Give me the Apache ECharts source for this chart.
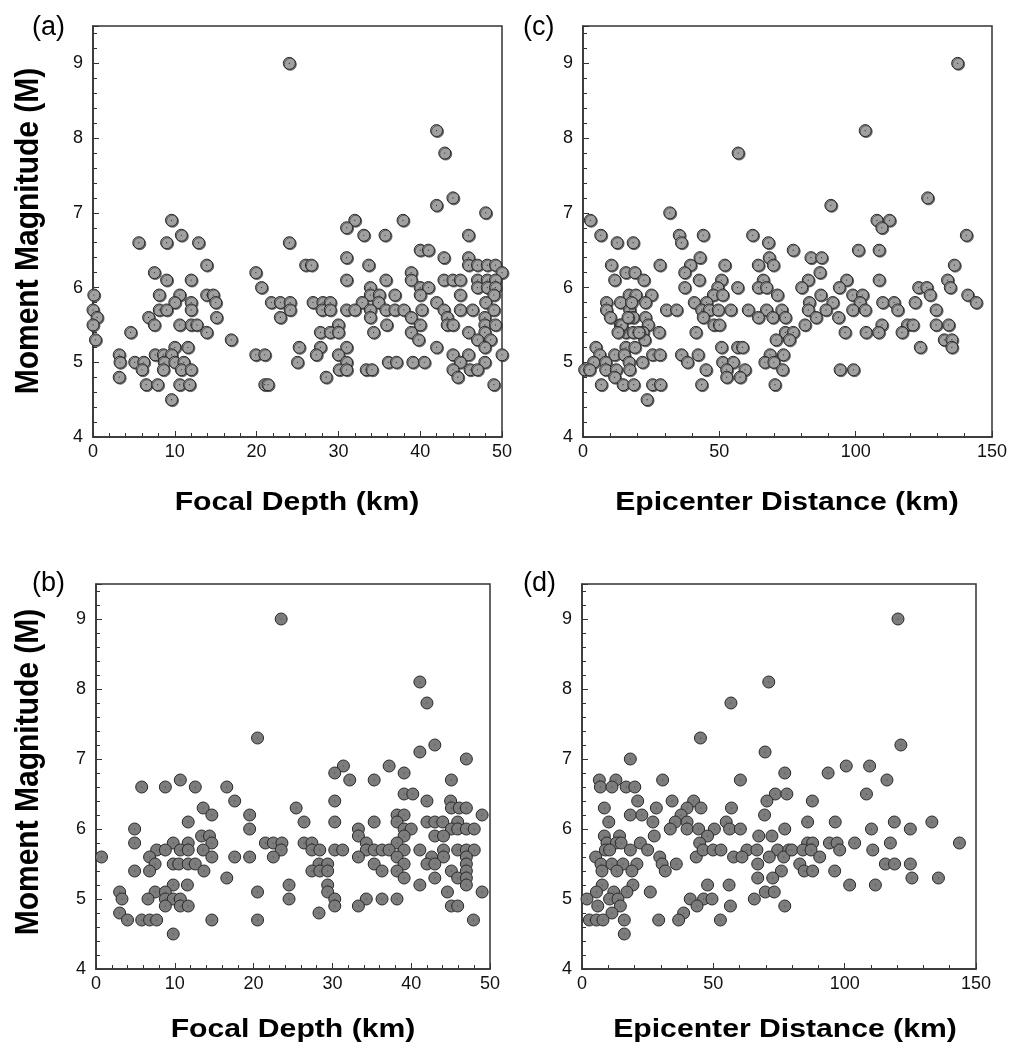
<!DOCTYPE html>
<html lang="en">
<head>
    <meta charset="UTF-8">
    <title>magnitude scatter</title>
    <script src="https://cdn.jsdelivr.net/npm/echarts@6/dist/echarts.min.js"></script>
    <style>
        html, body {margin: 0; padding: 0; background: #fff;}
        #main {width: 1011px; height: 1050px;}
    </style>
</head>
<body>
<div id="main"></div>
<script>
    // (a) focal depth vs magnitude
    let depthA = [24.0, 42.0, 43.0, 44.0, 42.0, 48.0, 9.6, 32.0, 37.9, 31.0, 10.8, 33.1, 35.7, 45.9, 5.6, 9.0, 12.9, 24.0, 40.0, 41.0,
        31.0, 42.9, 45.9, 13.9, 26.0, 26.7, 33.7, 45.9, 47.0, 48.2, 49.2, 7.5, 19.9, 38.9, 50.0, 9.0, 12.0, 31.0, 35.8, 38.9,
        42.9, 44.0, 44.9, 47.0, 48.2, 49.2, 20.6, 33.9, 40.0, 41.0, 47.0, 48.2, 49.2, 0.1, 8.1, 10.6, 13.9, 14.7, 33.9, 35.0,
        36.9, 40.0, 44.9, 49.0, 10.0, 12.0, 15.0, 21.8, 22.9, 24.1, 26.9, 28.1, 29.0, 32.9, 34.9, 42.0, 48.0, 0.0, 8.1, 9.0,
        12.0, 24.1, 28.0, 29.0, 31.0, 32.0, 33.9, 35.8, 36.9, 38.0, 40.2, 42.9, 44.9, 46.4, 49.0, 0.5, 6.8, 15.1, 22.9, 33.9,
        38.9, 43.3, 47.9, 0.0, 7.5, 10.6, 12.0, 12.7, 30.0, 35.9, 40.0, 43.3, 44.0, 47.9, 49.2, 4.6, 13.9, 27.8, 29.0, 30.0,
        34.3, 38.9, 45.9, 47.9, 0.3, 16.9, 39.8, 47.0, 48.6, 10.0, 11.6, 25.2, 27.8, 31.0, 42.0, 47.9, 3.2, 7.6, 8.6, 9.6,
        19.9, 21.0, 27.3, 30.0, 44.0, 45.9, 50.0, 3.3, 5.1, 6.2, 8.7, 10.0, 11.1, 25.0, 31.0, 36.1, 37.1, 39.1, 40.5, 44.9,
        47.9, 6.0, 8.6, 10.8, 12.0, 30.1, 31.0, 33.4, 34.1, 44.0, 46.1, 47.0, 3.2, 28.5, 44.6, 6.5, 7.9, 10.6, 11.8, 21.0,
        21.4, 49.0, 9.6];
    let magA = [9.0, 8.1, 7.8, 7.2, 7.1, 7.0, 6.9, 6.9, 6.9, 6.8, 6.7, 6.7, 6.7, 6.7, 6.6, 6.6, 6.6, 6.6, 6.5, 6.5,
        6.4, 6.4, 6.4, 6.3, 6.3, 6.3, 6.3, 6.3, 6.3, 6.3, 6.3, 6.2, 6.2, 6.2, 6.2, 6.1, 6.1, 6.1, 6.1, 6.1,
        6.1, 6.1, 6.1, 6.1, 6.1, 6.1, 6.0, 6.0, 6.0, 6.0, 6.0, 6.0, 6.0, 5.9, 5.9, 5.9, 5.9, 5.9, 5.9, 5.9,
        5.9, 5.9, 5.9, 5.9, 5.8, 5.8, 5.8, 5.8, 5.8, 5.8, 5.8, 5.8, 5.8, 5.8, 5.8, 5.8, 5.8, 5.7, 5.7, 5.7,
        5.7, 5.7, 5.7, 5.7, 5.7, 5.7, 5.7, 5.7, 5.7, 5.7, 5.7, 5.7, 5.7, 5.7, 5.7, 5.6, 5.6, 5.6, 5.6, 5.6,
        5.6, 5.6, 5.6, 5.5, 5.5, 5.5, 5.5, 5.5, 5.5, 5.5, 5.5, 5.5, 5.5, 5.5, 5.5, 5.4, 5.4, 5.4, 5.4, 5.4,
        5.4, 5.4, 5.4, 5.4, 5.3, 5.3, 5.3, 5.3, 5.3, 5.2, 5.2, 5.2, 5.2, 5.2, 5.2, 5.2, 5.1, 5.1, 5.1, 5.1,
        5.1, 5.1, 5.1, 5.1, 5.1, 5.1, 5.1, 5.0, 5.0, 5.0, 5.0, 5.0, 5.0, 5.0, 5.0, 5.0, 5.0, 5.0, 5.0, 5.0,
        5.0, 4.9, 4.9, 4.9, 4.9, 4.9, 4.9, 4.9, 4.9, 4.9, 4.9, 4.9, 4.8, 4.8, 4.8, 4.7, 4.7, 4.7, 4.7, 4.7,
        4.7, 4.7, 4.5];

    // (c) epicenter distance vs magnitude
    let distC = [137.4, 103.5, 56.9, 126.4, 90.9, 31.8, 2.7, 107.8, 112.4, 109.6, 6.5, 35.3, 44.1, 62.2, 140.6, 12.5, 18.4, 36.1, 68.0, 77.1,
        101.0, 108.6, 42.9, 83.6, 87.5, 68.3, 10.4, 28.2, 39.4, 52.0, 64.3, 69.8, 136.2, 15.7, 19.0, 37.3, 86.9, 11.6, 22.3, 42.6,
        50.8, 66.1, 82.6, 96.7, 108.6, 133.7, 37.3, 49.4, 56.7, 64.3, 67.3, 80.2, 94.0, 123.1, 126.1, 134.7, 25.1, 16.9, 19.4, 47.8,
        51.2, 71.3, 87.2, 98.9, 102.5, 127.3, 141.1, 8.6, 13.7, 22.9, 40.8, 45.3, 83.0, 91.6, 101.6, 109.9, 114.1, 121.8, 144.2, 8.6,
        17.1, 30.6, 34.3, 43.5, 46.3, 49.6, 54.2, 60.6, 67.3, 72.9, 82.6, 89.1, 98.9, 103.5, 115.4, 129.5, 10.0, 18.4, 22.9, 44.1,
        64.3, 69.6, 74.2, 85.5, 93.7, 13.7, 23.9, 48.0, 50.0, 81.4, 109.6, 119.0, 121.0, 129.5, 134.1, 15.7, 18.4, 22.0, 27.9, 41.4,
        74.2, 77.1, 96.1, 103.8, 108.4, 117.0, 22.6, 70.8, 75.7, 132.5, 135.3, 4.7, 15.7, 19.0, 50.8, 56.7, 58.5, 123.7, 135.3, 6.1,
        11.6, 15.1, 25.5, 28.2, 36.1, 42.2, 68.6, 73.5, 3.9, 8.3, 16.9, 21.8, 38.3, 51.2, 55.1, 66.7, 70.0, 0.6, 2.4, 8.3,
        12.2, 17.1, 45.1, 52.7, 59.4, 73.2, 94.3, 99.2, 11.6, 52.7, 57.6, 6.7, 14.7, 18.6, 25.5, 28.4, 43.5, 70.4, 23.5,
        14.2, 16.5, 20.5, 12.8, 17.8];
    let magC = [9.0, 8.1, 7.8, 7.2, 7.1, 7.0, 6.9, 6.9, 6.9, 6.8, 6.7, 6.7, 6.7, 6.7, 6.7, 6.6, 6.6, 6.6, 6.6, 6.5,
        6.5, 6.5, 6.4, 6.4, 6.4, 6.4, 6.3, 6.3, 6.3, 6.3, 6.3, 6.3, 6.3, 6.2, 6.2, 6.2, 6.2, 6.1, 6.1, 6.1,
        6.1, 6.1, 6.1, 6.1, 6.1, 6.1, 6.0, 6.0, 6.0, 6.0, 6.0, 6.0, 6.0, 6.0, 6.0, 6.0, 5.9, 5.9, 5.9, 5.9,
        5.9, 5.9, 5.9, 5.9, 5.9, 5.9, 5.9, 5.8, 5.8, 5.8, 5.8, 5.8, 5.8, 5.8, 5.8, 5.8, 5.8, 5.8, 5.8, 5.7,
        5.7, 5.7, 5.7, 5.7, 5.7, 5.7, 5.7, 5.7, 5.7, 5.7, 5.7, 5.7, 5.7, 5.7, 5.7, 5.7, 5.6, 5.6, 5.6, 5.6,
        5.6, 5.6, 5.6, 5.6, 5.6, 5.5, 5.5, 5.5, 5.5, 5.5, 5.5, 5.5, 5.5, 5.5, 5.5, 5.4, 5.4, 5.4, 5.4, 5.4,
        5.4, 5.4, 5.4, 5.4, 5.4, 5.4, 5.3, 5.3, 5.3, 5.3, 5.3, 5.2, 5.2, 5.2, 5.2, 5.2, 5.2, 5.2, 5.2, 5.1,
        5.1, 5.1, 5.1, 5.1, 5.1, 5.1, 5.1, 5.1, 5.0, 5.0, 5.0, 5.0, 5.0, 5.0, 5.0, 5.0, 5.0, 4.9, 4.9, 4.9,
        4.9, 4.9, 4.9, 4.9, 4.9, 4.9, 4.9, 4.9, 4.8, 4.8, 4.8, 4.7, 4.7, 4.7, 4.7, 4.7, 4.7, 4.7, 4.5,
        5.5, 5.6, 5.4, 5.4, 5.8];

    // (b) focal depth vs magnitude
    let depthB = [23.5, 20.5, 10.7, 5.8, 8.8, 12.6, 16.6, 17.6, 25.4, 13.6, 14.7, 19.5, 11.7, 4.9, 19.5, 4.9, 9.8, 11.7, 13.4, 14.4,
        14.7, 21.5, 22.5, 23.6, 7.7, 8.8, 10.7, 11.7, 13.6, 23.5, 0.7, 6.8, 14.7, 17.6, 19.5, 22.5, 7.5, 9.8, 10.5, 11.7,
        12.6, 4.9, 6.8, 13.7, 16.6, 9.8, 11.6, 24.5, 3.0, 7.5, 8.8, 20.5, 3.3, 6.6, 8.8, 9.8, 10.7, 24.5, 8.8, 10.7,
        11.7, 3.0, 4.0, 5.8, 6.8, 7.7, 14.7, 20.5, 9.8,
        41.1, 42.0, 43.0, 41.1, 47.0, 31.4, 30.3, 37.2, 39.1, 32.2, 35.3, 45.1, 39.1, 40.2, 30.3, 42.0, 45.0, 45.1, 46.1, 47.0,
        26.4, 30.3, 35.3, 38.2, 39.1, 38.2, 49.0, 42.0, 43.0, 44.0, 45.9, 33.3, 39.1, 40.0, 45.1, 45.9, 47.0, 48.0, 33.3, 39.1,
        43.0, 44.1, 26.4, 27.4, 34.3, 38.2, 27.4, 28.4, 30.3, 31.3, 34.3, 35.3, 36.3, 37.2, 39.1, 41.1, 44.1, 45.9, 47.0, 48.0,
        33.3, 38.2, 42.6, 44.1, 47.0, 28.3, 29.4, 35.3, 39.1, 42.0, 43.0, 47.0, 27.4, 28.4, 29.4, 36.3, 38.2, 45.1, 47.0, 39.1,
        43.0, 45.9, 47.0, 29.4, 41.1, 47.0, 29.4, 44.6, 49.0, 30.3, 34.3, 36.3, 38.2, 30.3, 33.3, 45.1, 45.9, 28.3, 47.9];
    let magB = [9.0, 7.3, 6.7, 6.6, 6.6, 6.6, 6.6, 6.4, 6.3, 6.3, 6.2, 6.2, 6.1, 6.0, 6.0, 5.8, 5.8, 5.8, 5.9, 5.9,
        5.8, 5.8, 5.8, 5.8, 5.7, 5.7, 5.7, 5.7, 5.7, 5.7, 5.6, 5.6, 5.6, 5.6, 5.6, 5.6, 5.5, 5.5, 5.5, 5.5,
        5.5, 5.4, 5.4, 5.4, 5.3, 5.2, 5.2, 5.2, 5.1, 5.1, 5.1, 5.1, 5.0, 5.0, 5.0, 5.0, 5.0, 5.0, 4.9, 4.9,
        4.9, 4.8, 4.7, 4.7, 4.7, 4.7, 4.7, 4.7, 4.5,
        8.1, 7.8, 7.2, 7.1, 7.0, 6.9, 6.8, 6.9, 6.8, 6.7, 6.7, 6.7, 6.5, 6.5, 6.4, 6.4, 6.4, 6.3, 6.3, 6.3,
        6.1, 6.1, 6.1, 6.2, 6.2, 6.1, 6.2, 6.1, 6.1, 6.1, 6.1, 6.0, 6.0, 6.0, 6.0, 6.0, 6.0, 6.0, 5.9, 5.9,
        5.9, 5.9, 5.8, 5.8, 5.8, 5.8, 5.7, 5.7, 5.7, 5.7, 5.7, 5.7, 5.7, 5.7, 5.7, 5.7, 5.7, 5.7, 5.7, 5.7,
        5.6, 5.6, 5.6, 5.6, 5.6, 5.5, 5.5, 5.5, 5.5, 5.5, 5.5, 5.5, 5.4, 5.4, 5.4, 5.4, 5.4, 5.4, 5.4, 5.3,
        5.3, 5.3, 5.3, 5.2, 5.2, 5.2, 5.1, 5.1, 5.1, 5.0, 5.0, 5.0, 5.0, 4.9, 4.9, 4.9, 4.9, 4.8, 4.7];

    // (d) epicenter distance vs magnitude
    let distD = [71.1, 56.7, 18.4, 45.1, 69.7, 77.2, 6.6, 12.9, 30.7, 60.3, 7.0, 11.4, 16.8, 20.1, 73.6, 78.0, 21.2, 34.3, 42.5, 70.4,
        8.5, 28.3, 40.0, 45.3, 56.9, 10.2, 18.4, 22.8, 27.0, 37.7, 35.5, 40.0, 54.9, 69.5, 8.5, 14.3, 27.5, 33.6, 40.0, 44.4,
        50.4, 56.2, 60.3, 77.2, 47.8, 67.3, 72.3, 9.5, 13.1, 14.9, 22.2, 44.8, 5.2, 8.9, 10.5, 18.4, 25.0, 29.6, 43.5, 46.1,
        49.9, 52.9, 62.8, 66.6, 74.5, 78.7, 57.7, 60.9, 71.3, 76.8, 7.2, 11.4, 15.6, 20.9, 30.5, 35.9, 66.9, 7.6, 13.3, 19.0,
        31.7, 75.9, 66.9, 72.6, 7.7, 19.4, 47.8, 56.0, 5.5, 12.1, 17.1, 26.0, 69.8, 73.2, 1.9, 10.5, 13.7, 41.2, 46.3, 49.5,
        65.6, 6.0, 14.6, 43.8, 56.5, 77.2, 11.4, 38.7, 2.8, 5.5, 8.0, 16.1, 29.2, 36.8, 52.7, 16.1,
        120.3, 121.4, 93.7, 100.6, 109.5, 116.1, 108.3, 87.7, 85.9, 96.4, 118.9, 133.2, 110.2, 125.0, 85.9, 87.8, 94.2, 97.1, 103.8, 117.4,
        143.7, 79.9, 84.1, 87.2, 98.1, 110.7, 90.5, 82.9, 115.5, 119.0, 125.0, 84.6, 87.8, 96.2, 101.9, 111.7, 125.6, 135.7];
    let magD = [8.1, 7.8, 7.0, 7.3, 7.1, 6.8, 6.7, 6.7, 6.7, 6.7, 6.6, 6.6, 6.6, 6.6, 6.5, 6.5, 6.4, 6.4, 6.4, 6.4,
        6.3, 6.3, 6.3, 6.3, 6.3, 6.1, 6.2, 6.2, 6.1, 6.2, 6.1, 6.1, 6.1, 6.2, 5.9, 5.9, 5.9, 6.0, 6.0, 6.0,
        6.0, 6.0, 6.0, 6.0, 5.9, 5.9, 5.9, 5.8, 5.8, 5.8, 5.8, 5.8, 5.6, 5.7, 5.7, 5.7, 5.7, 5.6, 5.6, 5.7,
        5.7, 5.7, 5.7, 5.7, 5.7, 5.7, 5.6, 5.6, 5.6, 5.6, 5.5, 5.5, 5.5, 5.5, 5.5, 5.5, 5.5, 5.4, 5.4, 5.4,
        5.4, 5.4, 5.3, 5.3, 5.2, 5.2, 5.2, 5.2, 5.1, 5.1, 5.1, 5.1, 5.1, 5.1, 5.0, 5.0, 5.0, 5.0, 5.0, 5.0,
        5.0, 4.9, 4.9, 4.9, 4.9, 4.9, 4.8, 4.8, 4.7, 4.7, 4.7, 4.7, 4.7, 4.7, 4.7, 4.5,
        9.0, 7.2, 6.8, 6.9, 6.9, 6.7, 6.5, 6.4, 6.1, 6.1, 6.1, 6.1, 6.0, 6.0, 5.8, 5.8, 5.8, 5.8, 5.8, 5.8,
        5.8, 5.7, 5.7, 5.7, 5.7, 5.7, 5.6, 5.5, 5.5, 5.5, 5.5, 5.4, 5.4, 5.4, 5.2, 5.2, 5.3, 5.3];

    let magTicks = [4, 5, 6, 7, 8, 9];

    function pairs(xs, ys) {
        return xs.map((x, i) => [x, ys[i]]);
    }

    let font = 'Liberation Sans, Arial, sans-serif';
    let grids = [
        {left: 93, top: 26, width: 409, height: 411},
        {left: 583, top: 26, width: 409, height: 411},
        {left: 96, top: 584, width: 394, height: 385},
        {left: 582, top: 584, width: 394, height: 385}
    ];

    function xAxisOf(i, max, interval) {
        return {
            type: 'value', gridIndex: i, min: 0, max: max, interval: interval,
            axisLine: {lineStyle: {color: '#333', width: 1.5}},
            axisTick: {inside: true, length: 6, lineStyle: {color: '#333'}},
            minorTick: {show: true, splitNumber: 5, length: 4, lineStyle: {color: '#333'}},
            axisLabel: {fontFamily: font, fontSize: 18, color: '#111', margin: 6},
            splitLine: {show: false}
        };
    }

    function yAxisOf(i) {
        return {
            type: 'value', gridIndex: i, min: 4, max: 9.5, interval: 1,
            axisLine: {lineStyle: {color: '#333', width: 1.5}},
            axisTick: {inside: true, length: 6, lineStyle: {color: '#333'}},
            minorTick: {show: true, splitNumber: 5, length: 4, lineStyle: {color: '#333'}},
            axisLabel: {fontFamily: font, fontSize: 18, color: '#111', margin: 10, showMaxLabel: false,
                formatter: v => (magTicks.indexOf(v) >= 0 ? String(v) : '')},
            splitLine: {show: false}
        };
    }

    function pointSeries(i, data, fill, size, shadow) {
        return {
            type: 'scatter', xAxisIndex: i, yAxisIndex: i, data: data,
            symbol: 'circle', symbolSize: size, silent: true,
            itemStyle: {
                color: fill, borderColor: '#2a2a2a', borderWidth: 1, opacity: 1,
                shadowColor: shadow ? 'rgba(60,60,60,0.7)' : 'transparent',
                shadowOffsetX: shadow ? 1 : 0, shadowOffsetY: shadow ? 1 : 0, shadowBlur: 0
            }
        };
    }

    function dotSeries(i, data, color) {
        return {
            type: 'scatter', xAxisIndex: i, yAxisIndex: i, data: data,
            symbol: 'circle', symbolSize: 1.2, silent: true, z: 3,
            itemStyle: {color: color}
        };
    }

    // bold axis titles, slightly widened like the original figure
    function xTitle(text, cx, cy) {
        return {type: 'text', x: cx, y: cy, scaleX: 1.16,
            style: {text: text, font: 'bold 26px ' + font, fill: '#000', align: 'center', verticalAlign: 'middle'}};
    }

    function yTitle(text, cx, cy) {
        return {type: 'text', x: cx, y: cy, rotation: Math.PI / 2, scaleY: 1.1,
            style: {text: text, font: 'bold 30px ' + font, fill: '#000', align: 'center', verticalAlign: 'middle'}};
    }

    function panelTag(text, x, y) {
        return {type: 'text', x: x, y: y, style: {text: text, font: '27px ' + font, fill: '#000'}};
    }

    let dataA = pairs(depthA, magA);
    let dataC = pairs(distC, magC);
    let dataB = pairs(depthB, magB);
    let dataD = pairs(distD, magD);

    let myChart = echarts.init(document.getElementById('main'), null, {renderer: 'canvas'});
    let option = {
        backgroundColor: '#fff',
        animation: false,
        grid: grids.map(g => Object.assign({show: true, borderColor: '#333', borderWidth: 1.5, containLabel: false}, g)),
        xAxis: [xAxisOf(0, 50, 10), xAxisOf(1, 150, 50), xAxisOf(2, 50, 10), xAxisOf(3, 150, 50)],
        yAxis: [yAxisOf(0), yAxisOf(1), yAxisOf(2), yAxisOf(3)],
        graphic: [
            panelTag('(a)', 32, 14),
            panelTag('(c)', 523, 14),
            panelTag('(b)', 32, 570),
            panelTag('(d)', 523, 570),
            xTitle('Focal Depth (km)', 297, 503),
            xTitle('Epicenter Distance (km)', 787, 503),
            xTitle('Focal Depth (km)', 293, 1030),
            xTitle('Epicenter Distance (km)', 785, 1030),
            yTitle('Moment Magnitude (M)', 29, 231),
            yTitle('Moment Magnitude (M)', 29, 772)
        ],
        series: [
            pointSeries(0, dataA, '#a0a0a0', 12, true),
            dotSeries(0, dataA, '#111'),
            pointSeries(1, dataC, '#a0a0a0', 12, true),
            dotSeries(1, dataC, '#111'),
            pointSeries(2, dataB, '#7c7c7c', 12, false),
            dotSeries(2, dataB, '#333'),
            pointSeries(3, dataD, '#7c7c7c', 12, false),
            dotSeries(3, dataD, '#333')
        ]
    };
    myChart.setOption(option);
</script>
</body>
</html>
